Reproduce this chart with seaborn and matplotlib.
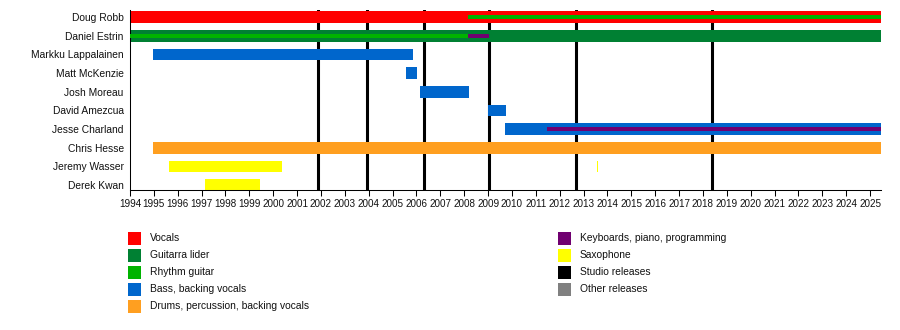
import matplotlib
matplotlib.use("Agg")
import matplotlib.pyplot as plt
from matplotlib.patches import Rectangle
import seaborn as sns
import pandas as pd

# ---------------- data ----------------
members = ["Doug Robb", "Daniel Estrin", "Markku Lappalainen", "Matt McKenzie",
           "Josh Moreau", "David Amezcua", "Jesse Charland", "Chris Hesse",
           "Jeremy Wasser", "Derek Kwan"]
start_year = 1994
end_date = 2025.46

# main bars: (member, role, start, end)
main_members = ["Doug Robb", "Daniel Estrin", "Markku Lappalainen", "Matt McKenzie",
                "Josh Moreau", "David Amezcua", "Jesse Charland", "Chris Hesse",
                "Jeremy Wasser", "Jeremy Wasser", "Derek Kwan"]
main_roles = ["Vocals", "Guitarra lider", "Bass, backing vocals", "Bass, backing vocals",
              "Bass, backing vocals", "Bass, backing vocals", "Bass, backing vocals",
              "Drums, percussion, backing vocals", "Saxophone", "Saxophone", "Saxophone"]
main_starts = [1994.0, 1994.0, 1994.97, 2005.56, 2006.15, 2009.0, 2009.71, 1994.97,
               1995.63, 2013.56, 1997.14]
main_ends = [end_date, end_date, 2005.86, 2006.02, 2008.2, 2009.75, end_date, end_date,
             2000.35, 2013.60, 1999.43]

# thin stripes over main bars
stripe_members = ["Doug Robb", "Daniel Estrin", "Daniel Estrin", "Jesse Charland"]
stripe_roles = ["Rhythm guitar", "Rhythm guitar", "Keyboards, piano, programming",
                "Keyboards, piano, programming"]
stripe_starts = [2008.15, 1994.0, 2008.15, 2011.47]
stripe_ends = [end_date, 2008.15, 2009.04, end_date]

# studio releases
studio_releases = [2001.88, 2003.93, 2006.32, 2009.04, 2012.68, 2018.38]

legend_left = ["Vocals", "Guitarra lider", "Rhythm guitar", "Bass, backing vocals",
               "Drums, percussion, backing vocals"]
legend_right = ["Keyboards, piano, programming", "Saxophone", "Studio releases",
                "Other releases"]

role_colors = {
    "Vocals": "#FF0000",
    "Guitarra lider": "#008033",
    "Rhythm guitar": "#00B300",
    "Bass, backing vocals": "#0066CC",
    "Drums, percussion, backing vocals": "#FF9F20",
    "Keyboards, piano, programming": "#700070",
    "Saxophone": "#FFFF00",
    "Studio releases": "#000000",
    "Other releases": "#808080",
}

# ---------------- plot ----------------
sns.set_theme(style="white")
plt.rcParams["font.family"] = ["Liberation Sans", "DejaVu Sans"]

W, H = 900, 330
fig = plt.figure(figsize=(W / 100, H / 100), dpi=100)
ax = fig.add_axes([130 / W, 1 - 190 / H, (881 - 130) / W, 180 / H])

row = {m: i for i, m in enumerate(members)}

main_df = pd.DataFrame({"member": main_members, "role": main_roles,
                        "start": main_starts, "end": main_ends})
stripe_df = pd.DataFrame({"member": stripe_members, "role": stripe_roles,
                          "start": stripe_starts, "end": stripe_ends})

for x in studio_releases:
    ax.axvline(x, color="black", lw=2.2, zorder=1)

for _, r in main_df.iterrows():
    ax.barh(row[r["member"]], r["end"] - r["start"], left=r["start"], height=0.625,
            color=role_colors[r["role"]], linewidth=0, zorder=2)
for _, r in stripe_df.iterrows():
    ax.barh(row[r["member"]], r["end"] - r["start"], left=r["start"], height=0.21,
            color=role_colors[r["role"]], linewidth=0, zorder=3)

ax.set_xlim(start_year, end_date)
ax.set_ylim(9.265, -0.375)
years = list(range(1994, 2026))
ax.set_xticks(years)
ax.set_xticklabels([str(y) for y in years], fontsize=7.1, color="#111111")
ax.set_yticks(range(len(members)))
ax.set_yticklabels(members, fontsize=7.4, color="#111111")
ax.tick_params(axis="x", direction="out", length=4.3, width=0.75, color="black",
               pad=2.5, bottom=True)
ax.tick_params(axis="y", length=0, pad=4.5)
sns.despine(ax=ax, top=True, right=True)
for s in ["left", "bottom"]:
    ax.spines[s].set_color("black")
    ax.spines[s].set_linewidth(0.75)
ax.grid(False)
ax.set_facecolor("white")

# legend (manual, two columns)
def legend_item(x_sq, x_txt, y_center, label):
    fig.add_artist(Rectangle((x_sq / W, 1 - (y_center + 6.5) / H), 13 / W, 13 / H,
                             transform=fig.transFigure, color=role_colors[label],
                             linewidth=0))
    fig.text(x_txt / W, 1 - y_center / H, label, fontsize=7.4, va="center", ha="left",
             color="#111111")

for i, lab in enumerate(legend_left):
    legend_item(128, 150, 238.3 + 17 * i, lab)
for i, lab in enumerate(legend_right):
    legend_item(558, 580, 238.3 + 17 * i, lab)

fig.savefig("out.png", dpi=100, facecolor="white")
